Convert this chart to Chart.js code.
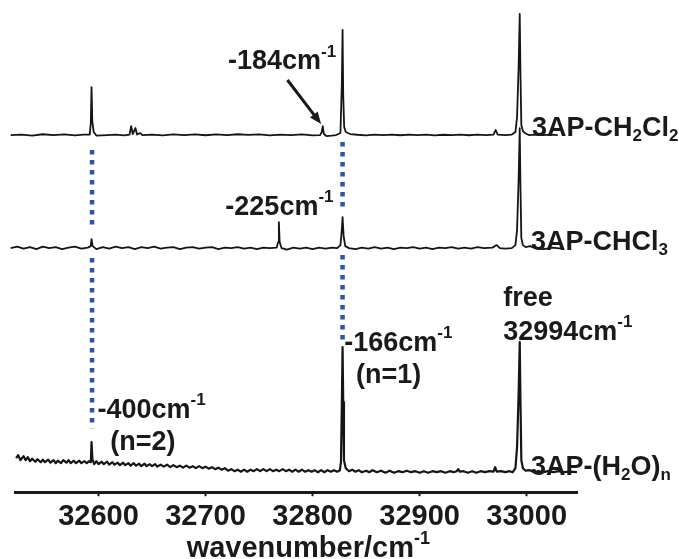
<!DOCTYPE html>
<html>
<head>
<meta charset="utf-8">
<script src="https://cdn.jsdelivr.net/npm/chart.js@4/dist/chart.umd.min.js"></script>
<style>
  html, body { margin: 0; padding: 0; background: #fff; }
  #wrap { width: 679px; height: 559px; }
</style>
</head>
<body>
<div id="wrap"><canvas id="spectra" width="679" height="559"></canvas></div>
<script>
//================================ Data (wavenumber, relative intensity) ================================

// 3AP-CH2Cl2 trace
var traceCH2Cl2 = [
    [32518, 0], [32528, 0.5], [32538, -0.5], [32548, 0.8], [32558, 0], [32568, 0.6], [32578, -0.3],
    [32586, 0.4], [32591.8, 0.5], [32592.8, 12], [32593.5, 48], [32594.2, 14], [32595.5, 3], [32598, -0.5],
    [32608, 0], [32616, 0.5], [32624, -0.3], [32629, 0.5], [32630.5, 9], [32632, 1], [32634.5, 7],
    [32636, 0.5], [32639, 2], [32641, 0], [32650, 0.5], [32660, -0.4], [32670, 0.6], [32680, 0],
    [32690, 0.7], [32700, -0.2], [32710, 0.6], [32720, 0], [32730, 0.8], [32740, 0.2], [32750, 0.6],
    [32760, -0.3], [32770, 0.5], [32780, 0], [32790, 0.6], [32800, -0.3], [32807, 0], [32808.5, 3],
    [32809.5, 9], [32810.5, 1], [32813, -1], [32818, -0.5], [32822, 0], [32826, 2], [32827.3, 50],
    [32828, 105], [32828.6, 40], [32829.5, 8], [32831, 3], [32835, 1], [32842, 0.3], [32850, -0.3],
    [32858, 0.4], [32866, 0], [32874, 0.5], [32882, -0.2], [32890, 0.4], [32898, 0], [32906, 0.5],
    [32914, -0.3], [32922, 0.3], [32930, 0], [32938, 0.5], [32946, -0.2], [32954, 0.4], [32962, 0],
    [32969, 0.5], [32971, 5], [32973, 0.5], [32980, 0], [32986, 0.5], [32989.5, 3], [32991, 18],
    [32992.5, 70], [32993.5, 121], [32994.2, 60], [32995, 10], [32996.5, 4], [32999, 1.5], [33002, 0],
    [33008, 0.5], [33015, 0], [33022, 0.5], [33029, 0]
];

// 3AP-CHCl3 trace
var traceCHCl3 = [
    [32518, 0], [32524, 1.5], [32530, -0.5], [32536, 1], [32542, -1], [32548, 1.5], [32554, 0],
    [32560, 1], [32566, -1], [32572, 0.5], [32578, 1.5], [32584, -0.5], [32590, 0.5], [32592.7, 2],
    [32593.5, 9], [32594.5, 2], [32598, -1], [32604, 1], [32610, -0.5], [32616, 1.5], [32622, 0],
    [32628, 1], [32634, -1], [32640, 1], [32646, 0], [32652, 1.5], [32658, -0.5], [32664, 0.5],
    [32670, 1], [32676, -1], [32682, 0.5], [32688, 1], [32694, -0.5], [32700, 0.5], [32706, 1],
    [32712, -1], [32718, 0.5], [32724, 0], [32730, 1], [32736, -0.5], [32742, 0.5], [32748, -1],
    [32754, 0.5], [32760, 0], [32766.5, 0.5], [32767.8, 6], [32768.5, 26], [32769.2, 6], [32771, 0],
    [32776, -1.5], [32782, 0.5], [32788, -0.5], [32794, 0.5], [32800, -1], [32806, 0.5], [32812, -0.5],
    [32818, 0.5], [32823, 0], [32826, 3], [32827.3, 18], [32828, 31], [32829, 12], [32830.5, 2],
    [32834, 0], [32840, -1], [32846, 0.5], [32852, -0.5], [32858, 1], [32864, -0.5], [32870, 0.5],
    [32876, -1], [32882, 0.5], [32888, 0], [32894, 1], [32900, -0.5], [32906, 0.5], [32912, -1],
    [32918, 0.5], [32924, 0], [32930, 1], [32936, -0.5], [32942, 0.5], [32948, -0.5], [32954, 1],
    [32960, 0], [32968, 0.5], [32972, 3], [32975, 0], [32980, -0.5], [32986, 0], [32989.5, 3],
    [32991, 18], [32992.5, 70], [32993.5, 120], [32994.2, 60], [32995, 10], [32996.5, 3], [32999, 1],
    [33003, 2], [33008, 0], [33016, -1], [33024, 0.5], [33033, -0.5]
];

// 3AP-(H2O)n trace
var traceH2O = [
    [32523, 14], [32525, 17], [32527, 12], [32530, 16], [32532, 12], [32534, 15], [32536, 11],
    [32538, 13.5], [32541, 10.5], [32543, 13], [32546, 10], [32548, 12.5], [32550, 10], [32553, 12.5],
    [32555, 9.5], [32558, 12], [32560, 9], [32562, 11.5], [32565, 9], [32567, 12], [32570, 9.5],
    [32572, 12], [32574, 9], [32577, 11.5], [32579, 9], [32582, 11.5], [32584, 9], [32587, 11],
    [32589, 9], [32591, 11], [32592.8, 10], [32593.5, 30], [32594.3, 13], [32596, 8], [32598, 11],
    [32600, 8], [32603, 10.5], [32605, 8], [32608, 10.5], [32610, 7.5], [32613, 10], [32615, 7.5],
    [32618, 9.5], [32620, 7], [32623, 9.5], [32625, 7], [32628, 9], [32630, 6.5], [32633, 9],
    [32635, 6.5], [32638, 8.5], [32640, 6], [32643, 8.5], [32645, 6], [32648, 8], [32650, 6],
    [32653, 8], [32655, 5.5], [32658, 7.5], [32661, 5.5], [32664, 7.5], [32667, 5], [32670, 7],
    [32673, 5], [32676, 6.5], [32679, 4.5], [32682, 6.5], [32685, 4.5], [32688, 6], [32691, 4],
    [32694, 6], [32697, 4], [32700, 5.5], [32703, 3.5], [32706, 5], [32709, 3], [32712, 4.5],
    [32715, 2.5], [32718, 4], [32721, 1.5], [32724, 3], [32727, 1], [32730, 2.5], [32733, 0.5],
    [32736, 2.5], [32739, 0.5], [32742, 2.5], [32745, 1], [32748, 3], [32751, 1], [32754, 3],
    [32757, 1], [32760, 3], [32763, 1], [32766, 2.5], [32769, 1], [32772, 3], [32775, 1],
    [32778, 2.5], [32781, 0.5], [32784, 2.5], [32787, 0.5], [32790, 2.5], [32793, 0.5], [32796, 2],
    [32799, 0.5], [32802, 2], [32805, 0], [32808, 2], [32811, 0], [32814, 2], [32817, 0.5],
    [32820, 2], [32823, 0.5], [32825.5, 2], [32826.5, 10], [32827.3, 65], [32828, 125], [32828.6, 70],
    [32829.3, 12], [32831, 4], [32834, 1], [32837, 2.5], [32840, 0.5], [32843, 2], [32846, 0],
    [32850, 1.5], [32853, 0], [32856, 2], [32860, 0], [32864, 1.5], [32868, -0.5], [32872, 1.5],
    [32876, -0.5], [32880, 1], [32884, 0], [32888, 1.5], [32892, 0], [32896, 1], [32900, -0.5],
    [32904, 1], [32908, -0.5], [32912, 1], [32916, 0], [32920, 1], [32924, -0.5], [32928, 1],
    [32932, 0], [32934.5, 1], [32936, 3], [32937.5, 0.5], [32941, 1], [32945, -0.5], [32949, 1],
    [32953, -0.5], [32957, 1], [32961, 0], [32965, 1], [32969, 0.5], [32970.5, 5], [32972, 0.5],
    [32976, 1], [32980, 0], [32984, 1], [32987, 0], [32989.5, 4], [32991, 25], [32992.5, 80],
    [32993.5, 130], [32994.2, 70], [32995, 12], [32996.5, 4], [32999, 1.5], [33003, 2], [33007, 0],
    [33011, 1], [33015, 0], [33020, 1], [33025, 0], [33030, 1], [33035, 0], [33040, 0.5], [33047, 0]
];

// vertical stacking of the three spectra
var traceOffsets = [357, 244, 20];

// blue guide lines at the shifted bands: position, and upper/lower runs [from, to]
var guideX = [32594, 32828];
var guideRuns = [
    [[342, 267], [234, 64]],
    [[350, 280], [237, 152]]
];

var xTicks = [32600, 32700, 32800, 32900, 33000];

// annotation texts: parts are [text, 'n'|'sup'|'sub'], placed at (wavenumber, intensity)
var notes = [
    { x: 32721, y: 430, parts: [['-184cm', 'n'], ['-1', 'sup']] },
    { x: 32718.5, y: 285, parts: [['-225cm', 'n'], ['-1', 'sup']] },
    { x: 33005, y: 364, parts: [['3AP-CH', 'n'], ['2', 'sub'], ['Cl', 'n'], ['2', 'sub']] },
    { x: 33004, y: 250, parts: [['3AP-CHCl', 'n'], ['3', 'sub']] },
    { x: 32978, y: 194, parts: [['free', 'n']] },
    { x: 32978, y: 160, parts: [['32994cm', 'n'], ['-1', 'sup']] },
    { x: 32829.5, y: 149, parts: [['-166cm', 'n'], ['-1', 'sup']] },
    { x: 32840.5, y: 117, parts: [['(n=1)', 'n']] },
    { x: 32599, y: 82, parts: [['-400cm', 'n'], ['-1', 'sup']] },
    { x: 32611, y: 50, parts: [['(n=2)', 'n']] },
    { x: 33004, y: 25, parts: [['3AP-(H', 'n'], ['2', 'sub'], ['O)', 'n'], ['n', 'sub']] }
];

// arrow pointing to the -184 band: [from, to]
var arrow184 = [[32776.5, 412], [32808, 368]];

var xTitle = [['wavenumber/cm', 'n'], ['-1', 'sup']];

//================================ Helpers ================================

var FONT = '"Liberation Sans", Arial, Helvetica, sans-serif';

function drawRich(ctx, parts, x, y, size, align) {
    var small = Math.round(size * 0.62);
    var widths = parts.map(function (p) {
        ctx.font = 'bold ' + (p[1] === 'n' ? size : small) + 'px ' + FONT;
        return ctx.measureText(p[0]).width;
    });
    var total = widths.reduce(function (a, b) { return a + b; }, 0);
    var cx = align === 'center' ? x - total / 2 : x;
    parts.forEach(function (p, i) {
        ctx.font = 'bold ' + (p[1] === 'n' ? size : small) + 'px ' + FONT;
        var dy = p[1] === 'sup' ? -size * 0.36 : p[1] === 'sub' ? size * 0.3 : 0;
        ctx.fillText(p[0], cx, y + dy);
        cx += widths[i];
    });
}

var notesPlugin = {
    id: 'notes',
    afterDatasetsDraw: function (chart) {
        var ctx = chart.ctx;
        var xs = chart.scales.x, ys = chart.scales.y;
        ctx.save();
        ctx.fillStyle = '#1a1a1a';
        ctx.textBaseline = 'middle';
        ctx.textAlign = 'left';
        notes.forEach(function (n) {
            drawRich(ctx, n.parts, xs.getPixelForValue(n.x), ys.getPixelForValue(n.y), 27, 'left');
        });

        // arrow
        var x1 = xs.getPixelForValue(arrow184[0][0]), y1 = ys.getPixelForValue(arrow184[0][1]);
        var x2 = xs.getPixelForValue(arrow184[1][0]), y2 = ys.getPixelForValue(arrow184[1][1]);
        var ang = Math.atan2(y2 - y1, x2 - x1);
        var head = 13;
        ctx.strokeStyle = '#1a1a1a';
        ctx.lineWidth = 3;
        ctx.beginPath();
        ctx.moveTo(x1, y1);
        ctx.lineTo(x2 - Math.cos(ang) * head * 0.8, y2 - Math.sin(ang) * head * 0.8);
        ctx.stroke();
        ctx.beginPath();
        ctx.moveTo(x2, y2);
        ctx.lineTo(x2 - head * Math.cos(ang - 0.38), y2 - head * Math.sin(ang - 0.38));
        ctx.lineTo(x2 - head * Math.cos(ang + 0.38), y2 - head * Math.sin(ang + 0.38));
        ctx.closePath();
        ctx.fill();

        // axis title
        drawRich(ctx, xTitle, xs.getPixelForValue(32796), chart.height - 10, 29, 'center');
        ctx.restore();
    }
};

//================================ Datasets ================================

var traces = [traceCH2Cl2, traceCHCl3, traceH2O];
var traceWidths = [1.8, 1.8, 2.2];
var datasets = [];

guideX.forEach(function (gx, i) {
    guideRuns[i].forEach(function (run) {
        datasets.push({
            data: [{ x: gx, y: run[0] }, { x: gx, y: run[1] }],
            borderColor: '#2a55b0',
            borderWidth: 4.5,
            borderDash: [4.5, 5.5],
            borderCapStyle: 'butt',
            pointRadius: 0,
            fill: false
        });
    });
});

traces.forEach(function (t, i) {
    datasets.push({
        data: t.map(function (p) { return { x: p[0], y: p[1] + traceOffsets[i] }; }),
        borderColor: '#151515',
        borderWidth: traceWidths[i],
        borderJoinStyle: 'round',
        pointRadius: 0,
        tension: 0,
        fill: false,
        clip: false
    });
});

var chrt = document.getElementById('spectra').getContext('2d');
var config = {
    type: 'line',
    data: { datasets: datasets },
    options: {
        responsive: false,
        animation: false,
        layout: { padding: { left: 15, right: 102, top: 11, bottom: 22 } },
        plugins: {
            legend: { display: false },
            tooltip: { enabled: false }
        },
        scales: {
            x: {
                type: 'linear',
                min: 32522,
                max: 33047,
                afterBuildTicks: function (scale) {
                    scale.ticks = xTicks.map(function (v) { return { value: v }; });
                },
                grid: {
                    display: true,
                    drawOnChartArea: false,
                    drawTicks: true,
                    tickLength: 4,
                    tickWidth: 2,
                    tickColor: '#1a1a1a'
                },
                border: { display: true, color: '#1a1a1a', width: 3 },
                ticks: {
                    color: '#1a1a1a',
                    padding: 3,
                    maxRotation: 0,
                    autoSkip: false,
                    font: { family: FONT, size: 29, weight: 'bold' },
                    callback: function (v) { return String(v); }
                }
            },
            y: {
                type: 'linear',
                display: false,
                min: 0,
                max: 481
            }
        }
    },
    plugins: [notesPlugin]
};

var spectraChart = new Chart(chrt, config);
</script>
</body>
</html>
